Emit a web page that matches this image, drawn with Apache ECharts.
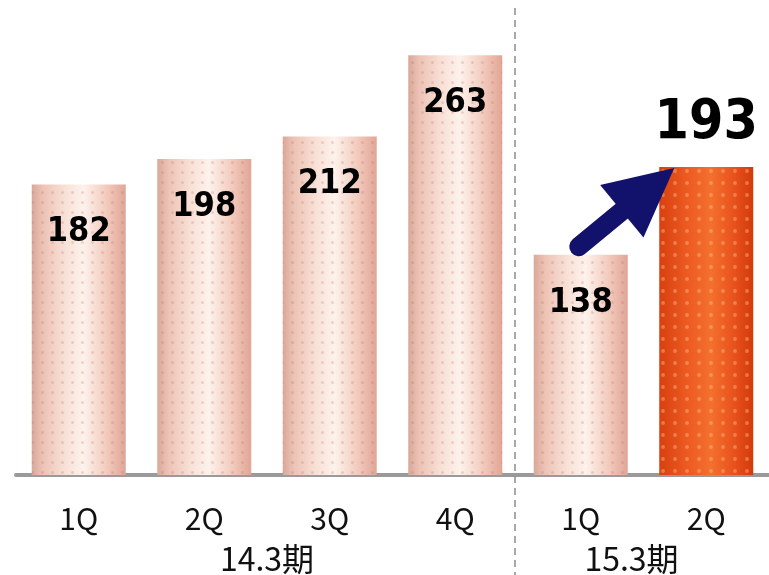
<!DOCTYPE html>
<html><head><meta charset="utf-8">
<script src="https://cdn.jsdelivr.net/npm/echarts@6/dist/echarts.min.js"></script>
<style>html,body{margin:0;padding:0;background:#fff}#c{width:769px;height:575px}</style>
</head><body><div id="c"></div>
<script>
const categories = ['1Q', '2Q', '3Q', '4Q', '1Q', '2Q'];
const values = [182, 198, 212, 263, 138, 193];
const groupLabels = ['14.3期', '15.3期'];
const groupRanges = [[0, 3], [4, 5]];
const highlightIndex = 5;
const arrowFrom = 4, arrowTo = 5;

const chart = echarts.init(document.getElementById('c'), null, {renderer: 'canvas'});
const BAR_W = 94;
const pinkFill = new echarts.graphic.LinearGradient(0, 0, 1, 0, [
  {offset: 0, color: '#d9a89a'}, {offset: 0.12, color: '#edc3b5'},
  {offset: 0.35, color: '#f8e0d6'}, {offset: 0.55, color: '#fdf2ec'},
  {offset: 0.8, color: '#f2cabd'}, {offset: 1, color: '#e0a595'}
]);
const orangeFill = new echarts.graphic.LinearGradient(0, 0, 1, 0, [
  {offset: 0, color: '#d8400f'}, {offset: 0.3, color: '#ec5a22'},
  {offset: 0.55, color: '#f4702e'}, {offset: 0.8, color: '#e8511c'}, {offset: 1, color: '#d23a0c'}
]);
const pinkDecal = {symbol: 'circle', symbolSize: 0.6, color: 'rgba(190,110,95,0.25)', dashArrayX: 5, dashArrayY: 5, rotation: 0};
const orangeDecal = {symbol: 'circle', symbolSize: 0.65, color: 'rgba(255,200,140,0.4)', dashArrayX: 6, dashArrayY: 6, rotation: 0};

const numFont = "'DejaVu Sans Condensed', 'DejaVu Sans', sans-serif";
const seriesData = values.map((v, i) => {
  const hi = i === highlightIndex;
  return {
    value: v,
    itemStyle: {color: hi ? orangeFill : pinkFill, decal: hi ? orangeDecal : pinkDecal},
    label: hi ? {position: 'top', distance: 16, fontSize: 55} : {}
  };
});

chart.setOption({
  animation: false,
  grid: {left: 16, right: -2, top: 28, bottom: 100},
  xAxis: {
    type: 'category', data: categories,
    axisLine: {lineStyle: {color: '#9a9a9a', width: 4}},
    axisTick: {show: false},
    axisLabel: {color: '#111', fontSize: 30, fontFamily: "'Noto Sans CJK JP', sans-serif", margin: 29}
  },
  yAxis: {type: 'value', min: 0, max: 280, show: false, splitLine: {show: false}},
  series: [{
    type: 'bar', barWidth: BAR_W, data: seriesData,
    label: {show: true, position: 'insideTop', distance: 31, color: '#000', fontWeight: 'bold', fontSize: 34, fontFamily: numFont}
  }]
});

function drawOverlay() {
  const px = (i, v) => chart.convertToPixel({seriesIndex: 0}, [i, v]);
  const g = [];
  const sepX = (px(groupRanges[0][1], 0)[0] + px(groupRanges[1][0], 0)[0]) / 2 - 3;
  g.push({type: 'line', shape: {x1: sepX, y1: 8, x2: sepX, y2: 575}, style: {stroke: '#8c8c8c', lineWidth: 1.5, lineDash: [7, 5]}, z: 1});
  groupLabels.forEach((t, k) => {
    const a = px(groupRanges[k][0], 0)[0], b = px(groupRanges[k][1], 0)[0];
    g.push({type: 'text', x: (a + b) / 2 - (k === 1 ? 12 : 0), y: 559, style: {text: t, fill: '#111', font: "32px 'Noto Sans CJK JP', sans-serif", textAlign: 'center', textVerticalAlign: 'middle'}, z: 5});
  });
  const p0 = px(arrowFrom, values[arrowFrom]);
  const p1 = px(arrowTo, values[arrowTo]);
  const tail = [p0[0] - 2, p0[1] - 8];
  const tip = [p1[0] - BAR_W / 2 + 15, p1[1] + 1];
  const dx = tip[0] - tail[0], dy = tip[1] - tail[1];
  const len = Math.hypot(dx, dy), ux = dx / len, uy = dy / len;
  const headLen = 68, headHalf = 34;
  const base = [tip[0] - ux * headLen, tip[1] - uy * headLen];
  const nx = -uy, ny = ux;
  const navy = '#12116c';
  g.push({type: 'line', shape: {x1: tail[0], y1: tail[1], x2: base[0] + ux * 4, y2: base[1] + uy * 4}, style: {stroke: navy, lineWidth: 19, lineCap: 'round'}, z: 10});
  g.push({type: 'polygon', shape: {points: [tip, [base[0] + nx * headHalf, base[1] + ny * headHalf], [base[0] - nx * headHalf, base[1] - ny * headHalf]]}, style: {fill: navy}, z: 10});
  chart.setOption({graphic: g});
}
drawOverlay();
</script></body></html>
